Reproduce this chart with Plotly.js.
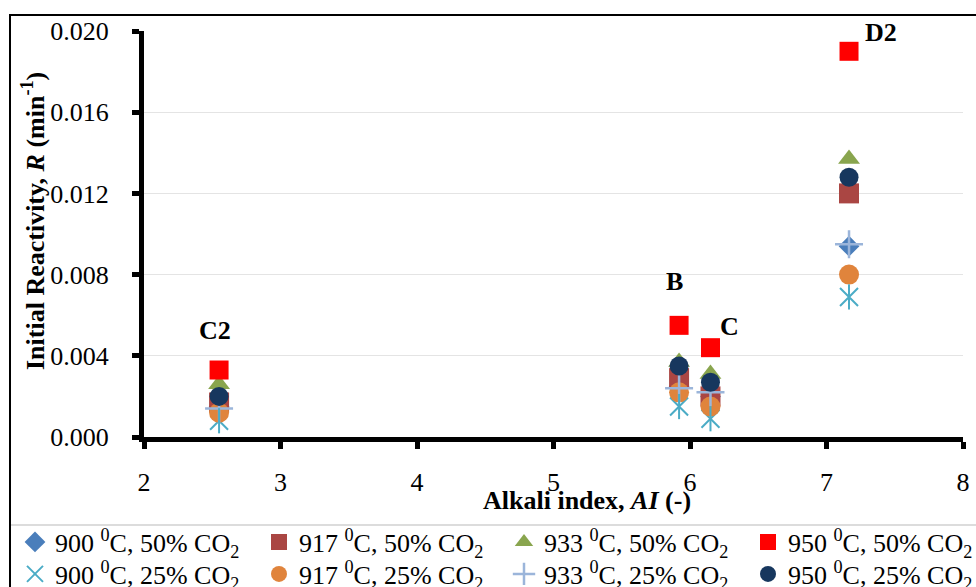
<!DOCTYPE html>
<html>
<head>
<meta charset="utf-8">
<script src="https://cdn.plot.ly/plotly-3.0.1.min.js"></script>
<style>html,body{margin:0;padding:0;background:#fff;}#chart{width:976px;height:587px;}</style>
</head>
<body>
<div id="chart"></div>
<script>
// Alkali index of each char sample
const samples = ["C2", "B", "C", "D2"];
const alkaliIndex = [2.55, 5.92, 6.15, 7.165];

// Initial reactivity R (min^-1) per condition
const r900_50 = [0.0015, 0.0025, 0.0020, 0.0094];
const r917_50 = [0.0017, 0.0029, 0.0020, 0.0120];
const r933_50 = [0.0026, 0.0037, 0.0031, 0.0137];
const r950_50 = [0.0033, 0.0055, 0.0044, 0.0190];
const r900_25 = [0.0008, 0.0015, 0.0009, 0.0069];
const r917_25 = [0.0012, 0.0022, 0.0015, 0.0080];
const r933_25 = [0.0014, 0.0024, 0.0022, 0.0095];
const r950_25 = [0.0020, 0.0035, 0.0027, 0.0128];

const legendNames = [
  "900 <sup>0</sup>C, 50% CO<sub>2</sub>",
  "917 <sup>0</sup>C, 50% CO<sub>2</sub>",
  "933 <sup>0</sup>C, 50% CO<sub>2</sub>",
  "950 <sup>0</sup>C, 50% CO<sub>2</sub>",
  "900 <sup>0</sup>C, 25% CO<sub>2</sub>",
  "917 <sup>0</sup>C, 25% CO<sub>2</sub>",
  "933 <sup>0</sup>C, 25% CO<sub>2</sub>",
  "950 <sup>0</sup>C, 25% CO<sub>2</sub>"
];
const xTitle = "<b>Alkali index, <i>AI</i> (-)</b>";
const yTitle = "<b>Initial Reactivity, <i>R</i> (min<sup>-1</sup>)</b>";
const labelX = [2.52, 5.886, 6.289, 7.396];
const labelY = [0.00527, 0.00764, 0.00542, 0.01995];
const xTicks = [2, 3, 4, 5, 6, 7, 8];
const yTicks = [0, 0.004, 0.008, 0.012, 0.016, 0.020];

function sc(y, name, symbol, color, size, lineW, legendId, extra) {
  const m = {symbol: symbol, size: size, color: color};
  if (symbol.indexOf("open") >= 0) m.line = {color: color, width: lineW};
  else m.line = {width: 0};
  return Object.assign({type: "scatter", mode: "markers", x: alkaliIndex, y: y, name: name,
    marker: m, legend: legendId, hoverinfo: "x+y"}, extra || {});
}

const traces = [
  sc(r900_50, legendNames[0], "diamond", "#4a7ebb", 16, 0, "legend"),
  sc(r917_50, legendNames[1], "square", "#aa4643", 20, 0, "legend2"),
  sc(r933_50, legendNames[2], "triangle-up", "#89a54e", 19, 0, "legend3"),
  sc(r950_50, legendNames[3], "square", "#ff0000", 19, 0, "legend4"),
  sc(r900_25, legendNames[4], "x-thin-open", "#4bacc6", 18, 2, "legend5"),
  sc(r917_25, legendNames[5], "circle", "#e0843c", 20, 0, "legend6"),
  sc(r933_25, legendNames[6], "cross-thin-open", "#9bb5da", 20, 2.5, "legend7"),
  sc(r950_25, legendNames[7], "circle", "#17375e", 19, 0, "legend8"),
  sc(r900_25, legendNames[4], "line-ns-open", "#4bacc6", 18, 2, "legend5", {showlegend: false})
];

const font = "'Liberation Serif', 'Times New Roman', serif";
const annotations = samples.map((s, i) => ({
  x: labelX[i], y: labelY[i], xref: "x", yref: "y", text: "<b>" + s + "</b>",
  xanchor: "center", yanchor: "middle",
  showarrow: false, font: {family: font, size: 26, color: "#000"}
}));
annotations.push({x: (587 - 144) / 819, y: (437 - 500) / 406, xref: "paper", yref: "paper",
  xanchor: "center", yanchor: "middle",
  text: xTitle, showarrow: false, font: {family: font, size: 26, color: "#000"}});
annotations.push({x: (33 - 144) / 819, y: (437 - 221) / 406, xref: "paper", yref: "paper",
  xanchor: "center", yanchor: "middle",
  text: yTitle, textangle: -90, showarrow: false, font: {family: font, size: 26, color: "#000"}});

function leg(xp, yp) {
  return {orientation: "v", x: xp, xanchor: "left", y: yp, yanchor: "middle",
    font: {family: font, size: 26, color: "#000"}, itemwidth: 30,
    bgcolor: "rgba(0,0,0,0)", borderwidth: 0};
}
const colX = [15, 259, 504, 748].map(p => (p - 144) / 819);
const rowY = [542, 574].map(p => (437 - p) / 406);

const layout = {
  width: 976, height: 587,
  margin: {l: 144, r: 13, t: 31, b: 150, autoexpand: false},
  paper_bgcolor: "#fff", plot_bgcolor: "#fff",
  font: {family: font, size: 26, color: "#000"},
  showlegend: true,
  legend: leg(colX[0], rowY[0]),
  legend2: leg(colX[1], rowY[0]),
  legend3: leg(colX[2], rowY[0]),
  legend4: leg(colX[3], rowY[0]),
  legend5: leg(colX[0], rowY[1]),
  legend6: leg(colX[1], rowY[1]),
  legend7: leg(colX[2], rowY[1]),
  legend8: leg(colX[3], rowY[1]),
  xaxis: {
    range: [2, 8], tickvals: xTicks, ticktext: xTicks.map(String),
    showline: true, linecolor: "#000", linewidth: 5, mirror: false,
    ticks: "outside", ticklen: 7, tickwidth: 5, tickcolor: "#000",
    showgrid: false, zeroline: false, automargin: false,
    tickfont: {family: font, size: 26, color: "#000"},
    ticklabelstandoff: 11
  },
  yaxis: {
    range: [0, 0.020], tickvals: yTicks, ticktext: yTicks.map(v => v.toFixed(3)),
    showline: true, linecolor: "#000", linewidth: 5, automargin: false,
    ticks: "outside", ticklen: 7, tickwidth: 5, tickcolor: "#000",
    showgrid: true, gridcolor: "#e4e4e4", gridwidth: 1, zeroline: false,
    tickfont: {family: font, size: 26, color: "#000"},
    ticklabelstandoff: 18
  },
  annotations: annotations,
  shapes: [
    {type: "rect", xref: "paper", yref: "paper", x0: (10 - 144) / 819, x1: 1.1, y0: -0.5, y1: 1 + 16 / 406,
     line: {color: "#000", width: 2}, fillcolor: "rgba(0,0,0,0)", layer: "below"},
    {type: "line", xref: "paper", yref: "paper", x0: (11 - 144) / 819, x1: 1.1, y0: (437 - 525) / 406, y1: (437 - 525) / 406,
     line: {color: "#d0d0d0", width: 1.5}, layer: "below"}
  ]
};

Plotly.newPlot("chart", traces, layout, {displayModeBar: false, staticPlot: true});
</script>
</body>
</html>
